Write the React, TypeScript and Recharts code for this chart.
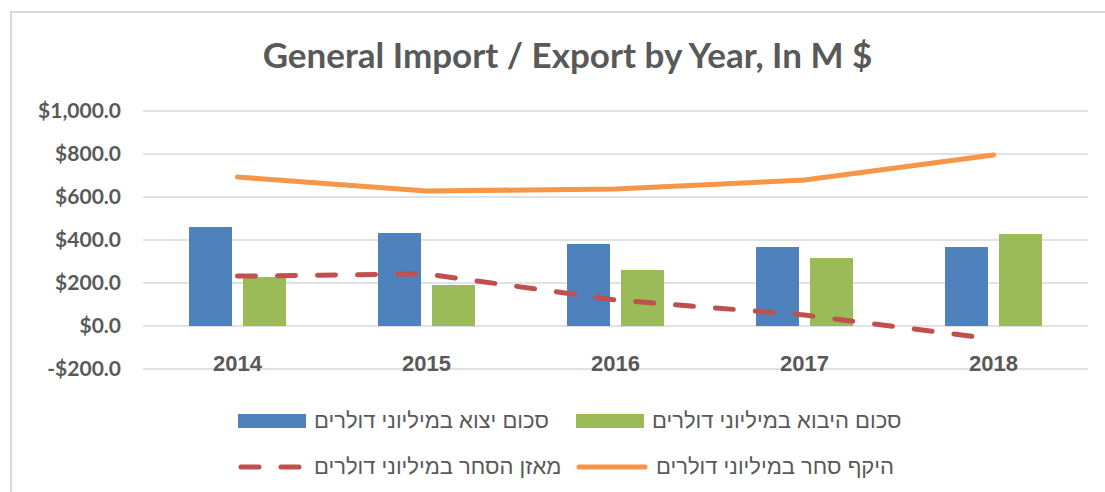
import React from "react";
import {
  ComposedChart,
  Bar,
  Line,
  XAxis,
  YAxis,
  CartesianGrid,
  Legend,
} from "recharts";

const years = ["2014", "2015", "2016", "2017", "2018"];
const exportValues = [460, 433, 381, 367, 367];
const importValues = [228, 191, 260, 316, 428];
const balanceValues = [232, 242, 121, 51, -61];
const volumeValues = [693, 628, 637, 679, 795];
const yTicks = [-200, 0, 200, 400, 600, 800, 1000];

const EXPORT_NAME = "סכום יצוא במיליוני דולרים";
const IMPORT_NAME = "סכום היבוא במיליוני דולרים";
const BALANCE_NAME = "מאזן הסחר במיליוני דולרים";
const VOLUME_NAME = "היקף סחר במיליוני דולרים";

const BLUE = "#4F81BD";
const GREEN = "#9BBB59";
const RED = "#C0504D";
const ORANGE = "#F79646";
const TEXT = "#595959";
const GRID = "#D9D9D9";

const data = years.map((year, i) => ({
  year,
  exp: exportValues[i],
  imp: importValues[i],
  balance: balanceValues[i],
  volume: volumeValues[i],
}));

function formatMoney(v: number): string {
  const s = Math.abs(v).toLocaleString("en-US", {
    minimumFractionDigits: 1,
    maximumFractionDigits: 1,
  });
  return v < 0 ? `-$${s}` : `$${s}`;
}

function YearTick({ x, y, payload }: any) {
  // Excel draws category labels just under the zero line
  return (
    <text
      x={x}
      y={y - 14}
      textAnchor="middle"
      dominantBaseline="central"
      fill={TEXT}
      fontFamily="'Liberation Sans', Arial, sans-serif"
      fontWeight="bold"
      fontSize={22}
    >
      {payload.value}
    </text>
  );
}

function Swatch({ kind, color }: { kind: string; color: string }) {
  if (kind === "bar") {
    return (
      <svg width={68} height={16}>
        <rect x={0} y={1} width={68} height={14} fill={color} />
      </svg>
    );
  }
  if (kind === "dash") {
    return (
      <svg width={68} height={16}>
        <line
          x1={3}
          y1={8}
          x2={66}
          y2={8}
          stroke={color}
          strokeWidth={5}
          strokeLinecap="round"
          strokeDasharray="18 22"
        />
      </svg>
    );
  }
  return (
    <svg width={72} height={16}>
      <line x1={3} y1={8} x2={69} y2={8} stroke={color} strokeWidth={5} strokeLinecap="round" />
    </svg>
  );
}

const legendRows = [
  [
    { name: EXPORT_NAME, kind: "bar", color: BLUE },
    { name: IMPORT_NAME, kind: "bar", color: GREEN },
  ],
  [
    { name: BALANCE_NAME, kind: "dash", color: RED },
    { name: VOLUME_NAME, kind: "line", color: ORANGE },
  ],
];

function ChartLegend() {
  return (
    <div style={{ paddingLeft: 238 }}>
      {legendRows.map((row, r) => (
        <div key={r} style={{ display: "flex", height: 46, alignItems: "center" }}>
          {row.map((item) => (
            <div
              key={item.name}
              style={{ display: "flex", alignItems: "center", width: 338 }}
            >
              <Swatch kind={item.kind} color={item.color} />
              <span
                dir="rtl"
                style={{
                  marginLeft: 8,
                  fontFamily: "'Liberation Sans', Arial, sans-serif",
                  fontSize: 22,
                  color: TEXT,
                }}
              >
                {item.name}
              </span>
            </div>
          ))}
        </div>
      ))}
    </div>
  );
}

export default function App() {
  return (
    <div
      style={{
        position: "absolute",
        left: 0,
        top: 0,
        width: 1105,
        height: 492,
        background: "#fff",
        overflow: "hidden",
      }}
    >
      <div
        style={{
          position: "absolute",
          left: 10,
          top: 11,
          width: 1120,
          height: 500,
          borderLeft: `2px solid ${GRID}`,
          borderTop: `2px solid ${GRID}`,
        }}
      />
      <div
        style={{
          position: "absolute",
          left: 0,
          top: 33,
          width: 1135,
          textAlign: "center",
          fontFamily: "Lato, 'Open Sans', sans-serif",
          fontWeight: "bold",
          fontSize: 35,
          color: TEXT,
        }}
      >
        General Import / Export by Year, In M $
      </div>
      <ComposedChart
        width={1105}
        height={492}
        data={data}
        margin={{ top: 111, right: 17, left: 0, bottom: 93 }}
        barSize={43}
        barGap={11}
        style={{ position: "absolute", left: 0, top: 0 }}
      >
        <CartesianGrid vertical={false} stroke={GRID} strokeWidth={1.5} />
        <XAxis
          dataKey="year"
          height={30}
          axisLine={false}
          tickLine={false}
          tick={<YearTick />}
          interval={0}
        />
        <YAxis
          width={143}
          domain={[-200, 1000]}
          ticks={yTicks}
          interval={0}
          axisLine={false}
          tickLine={false}
          tickSize={0}
          tickMargin={22}
          tickFormatter={formatMoney}
          tick={{
            fill: TEXT,
            fontFamily: "Lato, 'Open Sans', sans-serif",
            fontWeight: "bold",
            fontSize: 21,
          }}
        />
        <Bar dataKey="exp" name={EXPORT_NAME} fill={BLUE} isAnimationActive={false} />
        <Bar dataKey="imp" name={IMPORT_NAME} fill={GREEN} isAnimationActive={false} />
        <Line
          type="linear"
          dataKey="balance"
          name={BALANCE_NAME}
          stroke={RED}
          strokeWidth={5}
          strokeDasharray="18 22"
          strokeLinecap="round"
          dot={false}
          isAnimationActive={false}
        />
        <Line
          type="linear"
          dataKey="volume"
          name={VOLUME_NAME}
          stroke={ORANGE}
          strokeWidth={5}
          strokeLinecap="round"
          dot={false}
          isAnimationActive={false}
        />
        <Legend
          layout="horizontal"
          verticalAlign="middle"
          align="center"
          content={() => <ChartLegend />}
          wrapperStyle={{ top: 398, left: 0, width: 1105 }}
        />
      </ComposedChart>
    </div>
  );
}
